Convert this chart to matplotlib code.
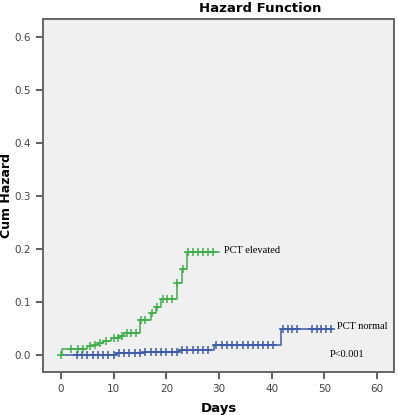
import matplotlib
matplotlib.use("Agg")
import matplotlib.pyplot as plt

# PCT elevated: step times and cumulative hazard after each step
elev_t = [0, 0.3, 5.0, 6.0, 7.0, 8.0, 9.5, 11.0, 12.0, 15.0, 17.0, 18.0, 19.0, 22.0, 23.0, 24.0, 29.9]
elev_h = [0.0, 0.011, 0.016, 0.019, 0.022, 0.026, 0.031, 0.036, 0.041, 0.066, 0.079, 0.091, 0.105, 0.136, 0.162, 0.194, 0.194]
elev_cens = [0, 2.0, 3.3, 4.2, 5.5, 6.5, 7.5, 8.5, 10.0, 10.8, 11.5, 12.5, 13.3, 14.2, 15.2, 16.0,
             17.2, 18.2, 19.3, 20.2, 21.0, 22.1, 23.1, 24.2, 25.1, 26.0, 27.0, 27.9, 28.9]

# PCT normal
norm_t = [0, 10.5, 16.0, 22.5, 29.0, 41.7, 51.4]
norm_h = [0.0, 0.003, 0.006, 0.010, 0.018, 0.049, 0.049]
norm_cens = [3, 4, 5, 6, 7, 8, 9, 10, 11, 12, 13, 14, 15, 16, 17, 18, 19, 20, 21, 22, 23, 24, 25, 26, 27, 28,
             29.5, 30.5, 31.5, 32.5, 33.5, 34.5, 35.5, 36.4, 37.4, 38.4, 39.3, 40.3,
             42.2, 43.0, 43.8, 44.7, 47.6, 48.5, 49.4, 50.3, 51.2]

green = '#3fae49'
blue = '#3d5ba8'


def at(ts, hs, x):
    # value of the step function at x
    v = hs[0]
    for t, h in zip(ts, hs):
        if t <= x:
            v = h
    return v


fig = plt.figure(figsize=(3.98, 4.15), dpi=100)
ax = fig.add_axes([0.108, 0.104, 0.882, 0.850])
ax.set_facecolor('#f0f0f0')

ax.step(norm_t, norm_h, where='post', color=blue, lw=1.1)
ax.plot(norm_cens, [at(norm_t, norm_h, c) for c in norm_cens], '+', color=blue, ms=5.5, mew=1.1)
ax.step(elev_t, elev_h, where='post', color=green, lw=1.1)
ax.plot(elev_cens, [at(elev_t, elev_h, c) for c in elev_cens], '+', color=green, ms=5.5, mew=1.1)

ax.text(31.0, 0.198, 'PCT elevated', fontsize=7.5, family='Liberation Serif', va='center')
ax.text(52.3, 0.053, 'PCT normal', fontsize=7.5, family='Liberation Serif', va='center')
ax.text(51.0, 0.0, 'P<0.001', fontsize=7.5, family='Liberation Serif', va='center')

ax.set_xlim(-3.4, 63.2)
ax.set_ylim(-0.032, 0.634)
ax.set_xticks([0, 10, 20, 30, 40, 50, 60])
ax.set_yticks([0.0, 0.1, 0.2, 0.3, 0.4, 0.5, 0.6])
ax.set_yticklabels(['0.0', '0.1', '0.2', '0.3', '0.4', '0.5', '0.6'])
ax.tick_params(direction='out', length=5, width=1.2, color='#444444', labelsize=7.5, labelcolor='#444444')
for s in ax.spines.values():
    s.set_color('#666666')
    s.set_linewidth(1.4)

ax.set_xlabel('Days', fontsize=9.5, fontweight='bold', labelpad=6)
ax.set_ylabel('Cum Hazard', fontsize=9, fontweight='bold')
ax.yaxis.set_label_coords(-0.085, 0.5)
fig.text(0.653, 0.98, 'Hazard Function', fontsize=9.5, fontweight='bold', ha='center', va='center')

fig.savefig('out.png', dpi=100)
